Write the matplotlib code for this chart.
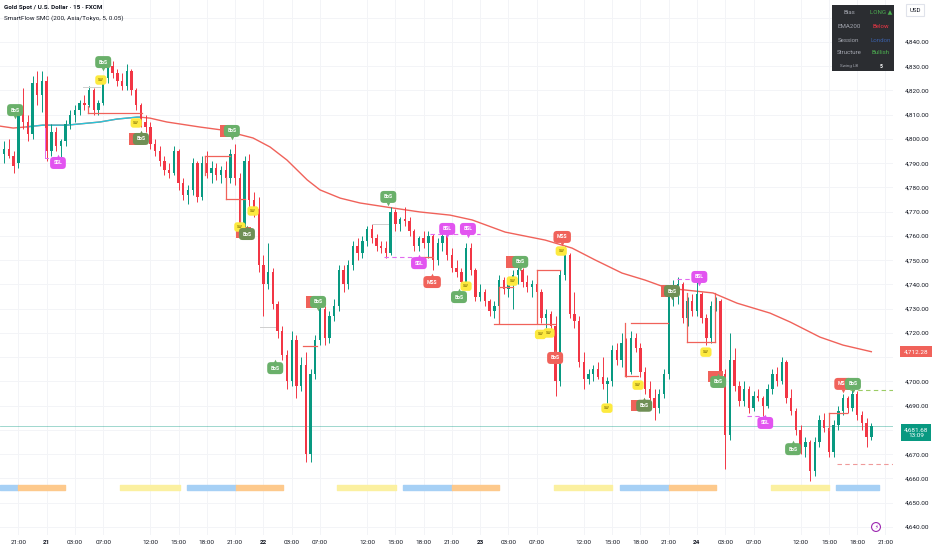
import numpy as np
import matplotlib
matplotlib.use('Agg')
import matplotlib.pyplot as plt
from matplotlib.patches import Rectangle
from matplotlib.transforms import blended_transform_factory
from matplotlib.ticker import FuncFormatter

plt.rcParams['font.family'] = ['Roboto', 'DejaVu Sans']

# --- 30 min candles (bar index = position on the time axis) ---
opens = [4794, 4796, 4793, 4790, 4812, 4807, 4802, 4823, 4818, 4824,
         4795, 4803, 4797, 4799, 4806, 4810, 4812, 4815, 4814, 4820,
         4812, 4815, 4825, 4830, 4827, 4824, 4822, 4828, 4820, 4814,
         4807, 4805, 4798, 4795, 4791, 4787, 4786, 4795, 4782, 4777,
         4779, 4790, 4776, 4790, 4786, 4788, 4785, 4787, 4784, 4794,
         4784, 4763, 4791, 4775, 4771, 4748, 4740, 4745, 4732, 4721,
         4711, 4700, 4717, 4698, 4707, 4670, 4703, 4717, 4730, 4718,
         4727, 4731, 4746, 4740, 4748, 4756, 4753, 4758, 4763, 4759,
         4756, 4755, 4753, 4770, 4765, 4767, 4766, 4762, 4756, 4759,
         4757, 4760, 4750, 4757, 4760, 4752, 4747, 4745, 4741, 4755,
         4746, 4735, 4737, 4733, 4729, 4731, 4742, 4738, 4740, 4744,
         4746, 4741, 4739, 4740, 4737, 4726, 4728, 4723, 4700, 4744,
         4752, 4728, 4725, 4708, 4701, 4703, 4705, 4702, 4699, 4700,
         4713, 4709, 4716, 4704, 4718, 4714, 4704, 4697, 4693, 4689,
         4695, 4703, 4735, 4737, 4740, 4726, 4733, 4729, 4736, 4726,
         4718, 4731, 4733, 4703, 4678, 4709, 4698, 4692, 4697, 4689,
         4694, 4693, 4690, 4697, 4703, 4700, 4708, 4693, 4688, 4680,
         4673, 4675, 4663, 4675, 4684, 4681, 4671, 4682, 4688, 4693,
         4689, 4695, 4686, 4683, 4677]
highs = [4799, 4800, 4795, 4814, 4821, 4810, 4826, 4828, 4828, 4826,
         4806, 4805, 4800, 4808, 4812, 4814, 4816, 4818, 4822, 4821,
         4816, 4826, 4832, 4832, 4829, 4827, 4831, 4829, 4821, 4815,
         4810, 4807, 4800, 4797, 4793, 4790, 4797, 4796, 4784, 4781,
         4792, 4791, 4793, 4795, 4791, 4790, 4789, 4791, 4796, 4798,
         4786, 4793, 4794, 4778, 4776, 4752, 4757, 4747, 4733, 4723,
         4713, 4721, 4719, 4710, 4712, 4705, 4719, 4733, 4731, 4729,
         4734, 4748, 4748, 4750, 4758, 4759, 4760, 4764, 4765, 4761,
         4758, 4758, 4772, 4771, 4768, 4772, 4768, 4763, 4760, 4762,
         4762, 4761, 4759, 4762, 4762, 4755, 4750, 4747, 4757, 4757,
         4747, 4740, 4738, 4734, 4733, 4744, 4743, 4741, 4746, 4748,
         4747, 4744, 4742, 4742, 4738, 4730, 4729, 4727, 4746, 4756,
         4753, 4737, 4727, 4712, 4705, 4707, 4708, 4710, 4702, 4715,
         4716, 4720, 4718, 4721, 4720, 4716, 4706, 4700, 4697, 4697,
         4705, 4737, 4742, 4743, 4741, 4735, 4736, 4742, 4737, 4728,
         4733, 4735, 4734, 4705, 4720, 4714, 4700, 4700, 4698, 4696,
         4697, 4694, 4699, 4705, 4706, 4710, 4709, 4697, 4689, 4682,
         4677, 4676, 4677, 4686, 4687, 4683, 4684, 4690, 4695, 4694,
         4697, 4696, 4688, 4685, 4683]
lows = [4790, 4792, 4786, 4788, 4804, 4799, 4800, 4814, 4811, 4791,
        4793, 4795, 4792, 4797, 4804, 4807, 4810, 4812, 4813, 4810,
        4810, 4814, 4823, 4825, 4822, 4820, 4820, 4818, 4812, 4805,
        4803, 4796, 4793, 4789, 4785, 4784, 4785, 4779, 4775, 4773,
        4777, 4774, 4775, 4784, 4782, 4783, 4782, 4782, 4782, 4781,
        4760, 4761, 4772, 4768, 4745, 4727, 4738, 4730, 4718, 4709,
        4697, 4698, 4693, 4696, 4667, 4667, 4701, 4715, 4715, 4716,
        4725, 4729, 4737, 4738, 4746, 4750, 4751, 4756, 4757, 4754,
        4753, 4751, 4752, 4762, 4762, 4764, 4760, 4754, 4754, 4755,
        4751, 4746, 4748, 4754, 4750, 4745, 4743, 4739, 4740, 4744,
        4733, 4733, 4731, 4727, 4726, 4729, 4736, 4735, 4730, 4740,
        4739, 4737, 4735, 4735, 4724, 4722, 4721, 4694, 4698, 4742,
        4726, 4722, 4706, 4697, 4699, 4700, 4701, 4697, 4691, 4698,
        4707, 4706, 4702, 4703, 4712, 4702, 4695, 4691, 4684, 4687,
        4693, 4701, 4731, 4732, 4724, 4723, 4727, 4727, 4724, 4715,
        4716, 4729, 4700, 4664, 4676, 4696, 4690, 4690, 4687, 4688,
        4692, 4685, 4689, 4695, 4698, 4699, 4691, 4686, 4678, 4670,
        4669, 4659, 4661, 4673, 4679, 4669, 4669, 4680, 4686, 4687,
        4688, 4684, 4680, 4673, 4676]
closes = [4796, 4793, 4789, 4812, 4807, 4802, 4823, 4818, 4824, 4795,
          4803, 4797, 4799, 4806, 4810, 4812, 4815, 4814, 4820, 4812,
          4815, 4825, 4830, 4827, 4824, 4822, 4828, 4820, 4814, 4807,
          4805, 4798, 4795, 4791, 4787, 4786, 4795, 4782, 4777, 4779,
          4790, 4776, 4790, 4786, 4788, 4785, 4787, 4784, 4794, 4784,
          4763, 4791, 4775, 4771, 4748, 4740, 4745, 4732, 4721, 4711,
          4700, 4717, 4698, 4707, 4670, 4703, 4717, 4730, 4718, 4727,
          4731, 4746, 4740, 4748, 4756, 4753, 4758, 4763, 4759, 4756,
          4755, 4753, 4770, 4765, 4767, 4766, 4762, 4756, 4759, 4757,
          4760, 4750, 4757, 4760, 4752, 4747, 4745, 4741, 4755, 4746,
          4735, 4737, 4733, 4729, 4731, 4742, 4738, 4740, 4744, 4746,
          4741, 4739, 4740, 4737, 4726, 4728, 4723, 4700, 4744, 4752,
          4728, 4725, 4708, 4701, 4703, 4705, 4702, 4699, 4700, 4713,
          4709, 4716, 4704, 4718, 4714, 4704, 4697, 4693, 4689, 4695,
          4703, 4735, 4737, 4740, 4726, 4733, 4729, 4736, 4726, 4718,
          4731, 4733, 4703, 4678, 4709, 4698, 4692, 4697, 4689, 4694,
          4693, 4690, 4697, 4703, 4700, 4708, 4693, 4688, 4680, 4673,
          4675, 4663, 4675, 4684, 4681, 4671, 4682, 4688, 4693, 4689,
          4695, 4686, 4683, 4677, 4681.68]

# EMA 200 (bar index, value) and the stretch where it was drawn teal
ema_x = [-0.9, 1.9, 4.8, 8.2, 13.3, 20.3, 23.9, 28.2, 28.8, 30.9, 34.5, 41.6, 46.2,
         52.8, 56.4, 60.0, 64.3, 67.0, 71.3, 75.5, 81.2, 88.2, 94.6, 99.3, 106.3,
         114.8, 120.5, 125.4, 131.1, 136.0, 140.7, 150.4, 155.5, 162.5, 166.8,
         173.1, 178.0, 184.0]
ema_y = [4805.3, 4804.5, 4805.0, 4805.7, 4805.7, 4807.0, 4808.2, 4809.0, 4809.0,
         4808.6, 4807.0, 4804.9, 4803.7, 4800.4, 4796.7, 4791.3, 4783.1, 4779.0,
         4775.6, 4773.6, 4771.9, 4769.9, 4768.6, 4766.6, 4761.6, 4758.3, 4755.0,
         4750.1, 4744.7, 4741.8, 4738.5, 4736.5, 4732.3, 4728.2, 4724.5, 4718.3,
         4715.0, 4712.28]
ema_above = (4.8, 28.8)

# time axis
tick_bars = [3, 9, 15, 21, 31, 37, 43, 49, 55, 61, 67, 77, 83, 89, 95, 101, 107, 113,
             123, 129, 135, 141, 147, 153, 159, 169, 175, 181, 187]
tick_labels = ['21:00', '21', '03:00', '07:00', '12:00', '15:00', '18:00', '21:00', '22',
               '03:00', '07:00', '12:00', '15:00', '18:00', '21:00', '23', '03:00', '07:00',
               '12:00', '15:00', '18:00', '21:00', '24', '03:00', '07:00', '12:00', '15:00',
               '18:00', '21:00']

# sessions strip
sess_name = ['London', 'New York', 'Asia', 'London', 'New York', 'Asia', 'London',
             'New York', 'Asia', 'London', 'New York', 'Asia', 'London']
sess_start = [-0.9, 2.9, 24.6, 38.8, 49.2, 70.6, 84.6, 95.0, 116.7, 130.7, 141.1, 162.7, 176.5]
sess_end = [2.9, 12.9, 37.3, 49.2, 59.2, 83.1, 95.0, 105.0, 129.0, 141.1, 151.1, 175.0, 185.7]

# structure lines (bar, bar, price, price)
seg_x0 = [17.8, 17.8, 16.7, 8.7, 8.7, 42.6, 42.6, 47.1, 47.1, 50.0, 54.3, 63.4, 78.1,
          80.6, 88.2, 90.4, 105.0, 105.0, 103.9, 113.1, 113.1, 131.8, 131.8, 133.0,
          144.9, 144.9, 150.9, 142.8, 157.6, 175.0, 175.0, 179.5, 176.7]
seg_x1 = [29.2, 17.8, 20.3, 8.7, 9.3, 47.9, 42.6, 51.1, 47.1, 50.0, 57.5, 66.4, 81.5,
          88.2, 91.0, 101.0, 108.0, 105.0, 116.9, 118.0, 113.1, 131.8, 134.5, 140.9,
          150.9, 144.9, 150.9, 145.5, 161.5, 178.9, 175.0, 188.6, 188.6]
seg_p0 = [4810.7, 4813.5, 4821.4, 4804.5, 4792.2, 4793.0, 4793.0, 4775.2, 4784.3,
          4775.2, 4722.4, 4714.6, 4764.9, 4751.3, 4751.3, 4760.8, 4738.9, 4738.9,
          4723.7, 4746.0, 4746.0, 4724.1, 4702.2, 4724.1, 4716.3, 4736.5, 4736.5,
          4742.2, 4685.7, 4687.0, 4687.0, 4696.5, 4666.0]
seg_p1 = [4810.7, 4810.7, 4821.4, 4792.2, 4792.2, 4793.0, 4785.0, 4775.2, 4775.2,
          4762.4, 4722.4, 4714.6, 4764.9, 4751.3, 4751.3, 4760.8, 4738.9, 4724.1,
          4723.7, 4746.0, 4724.1, 4702.2, 4702.2, 4724.1, 4716.3, 4716.3, 4716.3,
          4742.2, 4685.7, 4687.0, 4680.0, 4696.5, 4666.0]
seg_kind = ['bos', 'bos', 'eq', 'liq', 'liq', 'bos', 'bos', 'bos', 'bos', 'bos', 'eq',
            'bos', 'eq', 'liqd', 'bos', 'liqd', 'bos', 'bos', 'bos', 'bos', 'bos', 'bos',
            'bos', 'bos', 'bos', 'bos', 'bos', 'liqd', 'liqd', 'bos', 'bos', 'tp', 'sl']

# SMC tags ('under' = red tag almost hidden behind the next one)
lab_x = [2.3, 11.4, 21.0, 20.5, 28.0, 28.0, 29.0, 47.3, 48.3, 52.8, 50.0, 50.7, 51.5,
         57.5, 65.7, 66.6, 81.5, 88.0, 90.8, 94.0, 98.4, 96.5, 98.0, 108.0, 109.5,
         107.8, 118.4, 118.2, 113.8, 115.6, 116.9, 127.9, 134.5, 134.5, 135.8, 140.9,
         141.7, 147.5, 148.9, 150.9, 151.5, 161.5, 167.4, 178.0, 180.1]
lab_y = [4811.9, 4790.1, 4831.7, 4824.3, 4806.6, 4800.0, 4800.0, 4803.3, 4803.3,
         4770.3, 4763.7, 4761.6, 4760.8, 4705.5, 4732.8, 4732.8, 4776.1, 4748.8,
         4741.0, 4762.9, 4762.9, 4734.8, 4739.3, 4749.3, 4749.3, 4741.4, 4759.6,
         4753.8, 4719.4, 4720.0, 4709.7, 4689.0, 4698.5, 4690.0, 4690.0, 4737.3,
         4737.3, 4743.1, 4712.1, 4702.2, 4699.8, 4682.9, 4672.1, 4699.0, 4699.0]
lab_text = ['BoS', 'SSL', 'BoS', 'SW', 'SW', 'MSS', 'BoS', 'MSS', 'BoS', 'SW', 'SW',
            'MSS', 'BoS', 'BoS', 'MSS', 'BoS', 'BoS', 'SSL', 'MSS', 'BSL', 'BSL', 'BoS',
            'SW', 'MSS', 'BoS', 'SW', 'MSS', 'SW', 'SW', 'SW', 'BoS', 'SW', 'SW', 'MSS',
            'BoS', 'MSS', 'BoS', 'BSL', 'SW', 'MSS', 'BoS', 'SSL', 'BoS', 'MSS', 'BoS']
lab_kind = ['bull', 'liq', 'bull', 'sw', 'sw', 'under', 'bull2', 'under', 'bull', 'sw',
            'sw', 'under', 'bull2', 'bull', 'under', 'bull', 'bull', 'liq', 'bear', 'liq',
            'liq', 'bull', 'sw', 'under', 'bull', 'sw', 'bear', 'sw', 'sw', 'sw', 'bear',
            'sw', 'sw', 'under', 'bull2', 'under', 'bull2', 'liq', 'sw', 'under', 'bull',
            'liq', 'bull', 'bear', 'bull']
lab_dir = ['down', 'up', 'down', '', '', '', 'up', '', 'down', '', '', '', 'up', 'up',
           '', 'down', 'down', 'up', 'up', 'down', 'down', 'up', '', '', 'down', '',
           'down', '', '', '', 'up', '', '', '', 'up', '', 'down', 'down', '', '', 'up',
           'up', 'up', 'down', 'down']

# info table
tbl_keys = ['Bias', 'EMA200', 'Session', 'Structure', 'Swing LB']
tbl_vals = ['LONG ▲', 'Below', 'London', 'Bullish', '5']
bar_countdown = '13:09'

UP, DOWN = '#089981', '#f23645'

fig = plt.figure(figsize=(9.32, 5.5), dpi=100)
ax = fig.add_axes([0, 15 / 550, 893 / 932, 535 / 550])
ax.set_xlim(-0.9, 188.6)
ax.set_ylim(4636.7, 4857.3)

o = np.array(opens, float)
h = np.array(highs, float)
l = np.array(lows, float)
c = np.array(closes, float)
idx = np.arange(len(c))
col = np.where(c >= o, UP, DOWN)

# candles
ax.vlines(idx, l, h, colors=col, lw=0.7, zorder=3)
body = np.maximum(np.abs(c - o), 0.3)
ax.bar(idx, body, bottom=np.minimum(o, c), width=0.5, color=col, zorder=3)

# EMA
ex = np.array(ema_x)
ey = np.array(ema_y)
ax.plot(ex, ey, color='#f0625a', lw=1.0, zorder=2)
m = (ex >= ema_above[0]) & (ex <= ema_above[1])
ax.plot(ex[m], ey[m], color='#26c6da', lw=1.0, zorder=2)

# last price line
ax.axhline(c[-1], color='#089981', lw=0.6, alpha=0.45, zorder=1)

# structure lines
seg_style = {'bos': ('#f0625a', '-', 0.9), 'eq': ('#cfcfcf', '-', 0.7),
             'liq': ('#e26bf0', '-', 0.7), 'liqd': ('#e26bf0', (0, (4, 3)), 0.8),
             'tp': ('#9ccc65', (0, (4, 3)), 0.8), 'sl': ('#ef9a9a', (0, (4, 3)), 0.8)}
for x0, x1, p0, p1, k in zip(seg_x0, seg_x1, seg_p0, seg_p1, seg_kind):
    cl, ls, lw = seg_style[k]
    ax.plot([x0, x1], [p0, p1], color=cl, ls=ls, lw=lw, zorder=4)

# sessions
sess_col = {'Asia': '#fbf0a0', 'London': '#a6d0f5', 'New York': '#fdc98c'}
for s0, s1, nm in zip(sess_start, sess_end, sess_name):
    ax.broken_barh([(s0, s1 - s0)], (4655.2, 2.1), color=sess_col[nm], zorder=2)

# tags
tag_style = {'bull': ('#6ab06a', 'white'), 'bull2': ('#6f8f55', 'white'),
             'bear': ('#f0625a', 'white'), 'under': ('#f0625a', 'white'),
             'liq': ('#e254f0', 'white'), 'sw': ('#fdea3f', '#6d5d00')}
for x, y, t, k, d in zip(lab_x, lab_y, lab_text, lab_kind, lab_dir):
    fc, tc = tag_style[k]
    if k == 'under':
        # only the edge of this tag shows, the text sits behind the next tag
        ax.add_patch(Rectangle((x - 1.6, y - 2.3), 3.2, 4.6, fc=fc, ec='none', zorder=5))
        continue
    if k == 'sw':
        ax.text(x, y, t, fontsize=2.8, color=tc, ha='center', va='center', zorder=6,
                bbox=dict(boxstyle='round,pad=0.7', fc=fc, ec='none'))
        continue
    ax.text(x, y, t, fontsize=3.6, color=tc, ha='center', va='center',
            fontweight='bold', zorder=6,
            bbox=dict(boxstyle='round,pad=0.7', fc=fc, ec='none'))
    if d == 'down':
        ax.plot(x, y - 2.9, marker='v', ms=2.6, color=fc, mec='none', zorder=6)
    elif d == 'up':
        ax.plot(x, y + 2.9, marker='^', ms=2.6, color=fc, mec='none', zorder=6)

# price scale badges cover the tick labels next to them
badges = [ema_y[-1], closes[-1], 4852.0]


def price_fmt(v, _):
    if any(abs(v - b) < 4 for b in badges):
        return ''
    return f'{v:,.2f}'


# axes styling
for s in ax.spines.values():
    s.set_visible(False)
ax.set_axisbelow(True)
ax.yaxis.tick_right()
ax.set_yticks(np.arange(4640, 4851, 10))
ax.yaxis.set_major_formatter(FuncFormatter(price_fmt))
ax.tick_params(axis='y', length=0, pad=8.5, labelsize=4.6, labelcolor='#131722')
ax.set_xticks(tick_bars)
ax.set_xticklabels(tick_labels)
ax.tick_params(axis='x', length=0, pad=3.5, labelsize=4.6, labelcolor='#131722')
for lb in ax.get_xticklabels():
    if ':' not in lb.get_text():
        lb.set_fontweight('bold')
ax.grid(color='#f3f4f7', lw=0.7)

tr = blended_transform_factory(ax.transAxes, ax.transData)
ax_x = 1 + (916 - 893) / 893
ax.text(ax_x, ey[-1], f'{ey[-1]:,.2f}', transform=tr, ha='center', va='center',
        fontsize=4.6, color='white', clip_on=False, zorder=10,
        bbox=dict(boxstyle='square,pad=0.5', fc='#f0625a', ec='none'))
ax.text(ax_x, c[-1] - 2.7, f'{c[-1]:,.2f}\n{bar_countdown}', transform=tr,
        ha='center', va='center', fontsize=4.6, color='white', clip_on=False,
        zorder=10, linespacing=1.15,
        bbox=dict(boxstyle='square,pad=0.5', fc='#089981', ec='none'))

# header
fig.text(4 / 932, 1 - 8 / 550, 'Gold Spot / U.S. Dollar · 15 · FXCM', fontsize=4.6,
         fontweight='bold', color='#131722', va='center')
fig.text(4 / 932, 1 - 18 / 550, 'SmartFlow SMC (200, Asia/Tokyo, 5, 0.05)', fontsize=4.6,
         color='#131722', va='center')

# USD box
fig.text(915 / 932, 1 - 10 / 550, 'USD', ha='center', va='center', fontsize=4.4,
         color='#131722', zorder=20,
         bbox=dict(boxstyle='square,pad=0.6', fc='white', ec='#e0e3eb', lw=0.8))

# info table
fig.add_artist(Rectangle((832 / 932, 1 - 71 / 550), 62 / 932, 66 / 550,
                         transform=fig.transFigure, fc='#2b2d31', ec='none', zorder=20))
val_col = ['#4caf50', '#f23645', '#3a5fa8', '#4caf50', 'white']
row_y = [12, 26, 40, 53, 66]
for k, v, vc, yy in zip(tbl_keys, tbl_vals, val_col, row_y):
    small = k == 'Swing LB'
    fig.text(849 / 932, 1 - yy / 550, k, ha='center', va='center',
             fontsize=3.2 if small else 4.4, color='#a3a6af', zorder=21)
    fig.text(881 / 932, 1 - yy / 550, v, ha='center', va='center',
             fontsize=3.6 if small else 4.4, color=vc, zorder=21,
             fontweight='bold' if small else 'normal')

# little bolt icon
fig.text(876 / 932, 1 - 527 / 550, '⚡', ha='center', va='center', fontsize=4,
         color='#9c27b0', family=['DejaVu Sans'],
         bbox=dict(boxstyle='circle,pad=0.35', fc='white', ec='#9c27b0', lw=0.8))

fig.savefig('out.png', dpi=100)
